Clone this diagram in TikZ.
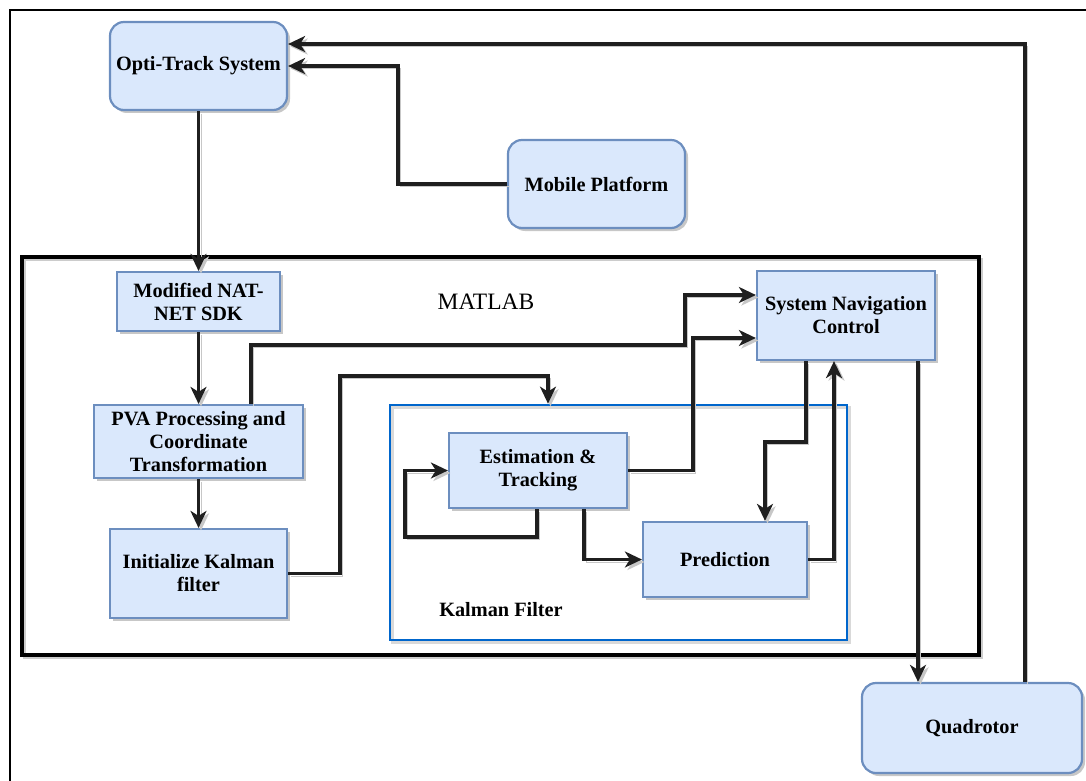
\documentclass[tikz,border=0pt]{standalone}
\usepackage{fontspec}
\setmainfont{Liberation Serif}
\usetikzlibrary{arrows.meta,shadows,calc}
\definecolor{boxfill}{HTML}{DAE8FC}
\definecolor{boxline}{HTML}{6C8EBF}
\definecolor{kfblue}{HTML}{0066CC}
\begin{document}
\begin{tikzpicture}[x=1pt,y=-1pt,
  lbl/.style={font=\fontsize{20.3}{23}\selectfont\bfseries, align=center},
  block/.style={lbl, draw=boxline, fill=boxfill, line width=2.2pt, inner sep=0pt,
    drop shadow={shadow xshift=3pt, shadow yshift=-3pt, fill=black, opacity=0.22}},
  roundblock/.style={block, rounded corners=14pt},
  arr/.style={line width=3.3pt, draw=black!88,
    -{Stealth[length=17pt,width=16pt,inset=5pt]},
    preaction={draw=black!22, transform canvas={shift={(2.5pt,-2.5pt)}}}},
  frame/.style={line width=3.2pt, draw=black,
    preaction={draw=black!20, transform canvas={shift={(2.5pt,-2.5pt)}}}}
]
\useasboundingbox (0,0) rectangle (1086,781);

% outer border
\draw[line width=1.6pt] (1086,10) -- (10,10) -- (10,781);

% MATLAB and Kalman filter frames
\node[frame, minimum width=957pt, minimum height=398pt, inner sep=0pt] (ml) at (500.5,456) {};
\node[font=\fontsize{23.5}{26}\selectfont] (mltxt) at (486,302) {MATLAB};
\node[draw=kfblue, line width=2.7pt, minimum width=457pt, minimum height=235pt, inner sep=0pt,
  preaction={draw=black!15, transform canvas={shift={(2.5pt,-2.5pt)}}}] (kf) at (618.5,522.5) {};
\node[lbl] (kftxt) at (501,610) {Kalman Filter};

% blocks
\node[roundblock, minimum width=177pt, minimum height=88pt] (opti) at (198.5,66) {Opti-Track System};
\node[roundblock, minimum width=177pt, minimum height=88pt] (mobile) at (596.5,184) {Mobile Platform};
\node[roundblock, minimum width=220pt, minimum height=90pt] (quad) at (972,728) {Quadrotor};
\node[block, minimum width=163pt, minimum height=59pt] (nat) at (198.5,301.5) {Modified NAT-\\NET SDK};
\node[block, minimum width=209pt, minimum height=73pt] (pva) at (198.5,441.5) {PVA Processing and\\Coordinate\\Transformation};
\node[block, minimum width=177pt, minimum height=89pt] (init) at (198.5,573.5) {Initialize Kalman\\filter};
\node[block, minimum width=178pt, minimum height=89pt] (nav) at (846,315.5) {System Navigation\\Control};
\node[block, minimum width=178pt, minimum height=75pt] (est) at (538,470.5) {Estimation \&\\Tracking};
\node[block, minimum width=164pt, minimum height=75pt] (pred) at (725,559.5) {Prediction};

% bend points
\coordinate (c1) at (685,345);
\coordinate (c2) at (693,338);
\coordinate (c3) at (340,376);
\coordinate (c4) at (405,537);
\coordinate (c5) at (765,442);
\coordinate (c6) at (398,66);

% connectors
\draw[arr] (opti.south) -- (nat.north);
\draw[arr] (nat.south) -- (pva.north);
\draw[arr] (pva.south) -- (init.north);
\draw[arr] ([xshift=52.5pt]pva.north) |- (c1) |- ([yshift=20.5pt]nav.west);
\draw[arr] (est.east) -| (c2) -- ([yshift=-22.5pt]nav.west);
\draw[arr] (init.east) -| (c3) -| ([xshift=-70.5pt]kf.north);
\draw[arr] ([xshift=-1pt]est.south) |- (c4) |- (est.west);
\draw[arr] ([xshift=46pt]est.south) |- (pred.west);
\draw[arr] (pred.east) -| ([xshift=-12pt]nav.south);
\draw[arr] ([xshift=-40pt]nav.south) |- (c5) -- ([xshift=40pt]pred.north);
\draw[arr] ([xshift=72pt]nav.south) -- ([xshift=-54pt]quad.north);
\draw[arr] ([xshift=53pt]quad.north) |- ([yshift=22pt]opti.east);
\draw[arr] (mobile.west) -| (c6) -- (opti.east);
\end{tikzpicture}
\end{document}
